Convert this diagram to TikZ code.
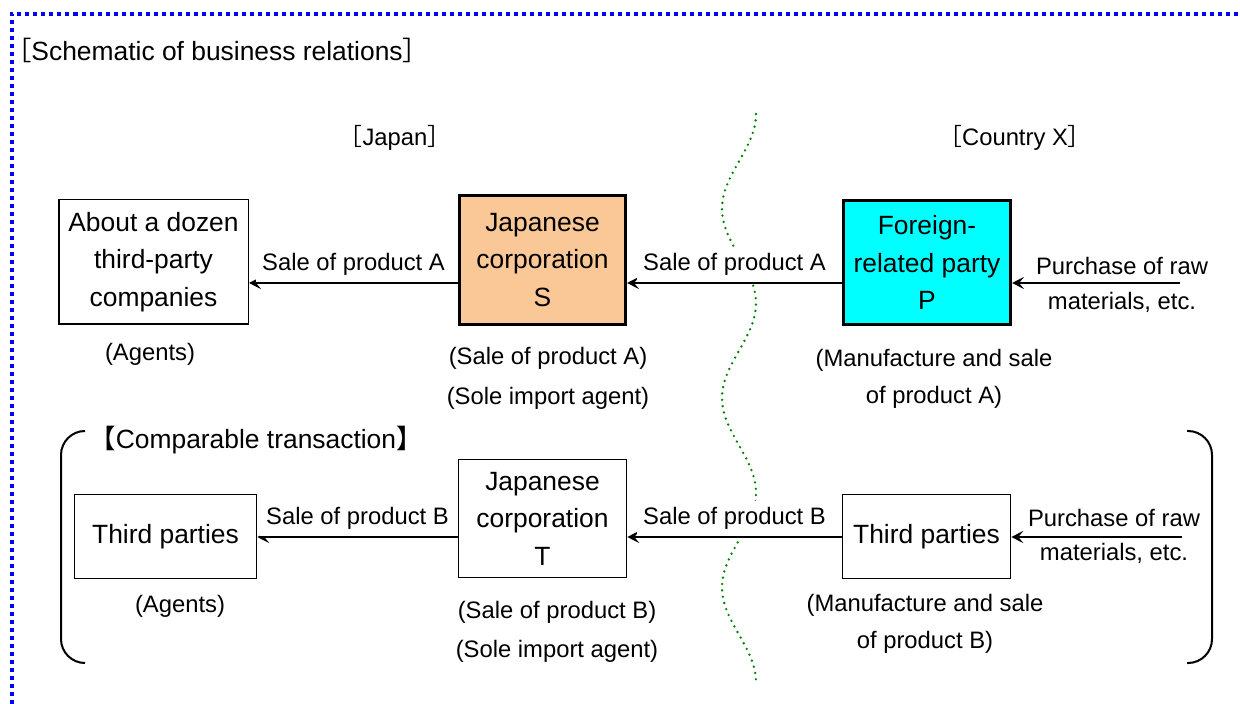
\documentclass[tikz,border=0pt]{standalone}
\usepackage{fontspec}
\setmainfont{Liberation Sans}
\newfontfamily\cjk{Noto Sans CJK JP}
\usetikzlibrary{arrows.meta}
\definecolor{peach}{RGB}{250,200,150}
\definecolor{aqua}{RGB}{0,255,255}
\definecolor{borderblue}{RGB}{0,0,240}
\definecolor{linegreen}{RGB}{0,128,0}
\newcommand\boxfont{\fontsize{13.2}{18.75}\selectfont}
\newcommand\lblfont{\fontsize{11.9}{18.5}\selectfont}

\begin{document}
\begin{tikzpicture}
[x=0.5pt,y=-0.5pt,
every node/.style={align=center,font=\lblfont},
firm/.style={draw,line width=0.75pt,font=\boxfont,inner sep=0pt},
keyfirm/.style={firm,line width=1.5pt},
flow/.style={-{Stealth[length=6pt,width=6pt,inset=2.5pt]},line width=0.75pt},
sale/.style={above,fill=white},
]
\useasboundingbox (0,0) rectangle (1240,704);
\draw[borderblue,line width=2pt,dash pattern=on 2pt off 2pt] (11.5,704) -- (11.5,14) -- (1240,14);
\draw[linegreen,line width=1.3pt,line cap=round,dash pattern=on 0pt off 3.2pt]
  plot[domain=0:6,samples=90,smooth] ({739+17*cos(\x*180)},{114+94.67*\x});

\node[font=\boxfont,anchor=west] (title) at (-2,50) {{\cjk ［}Schematic of business relations{\cjk ］}};
\node (japan) at (395,138) {{\cjk ［}Japan{\cjk ］}};
\node (countryx) at (1015,138) {{\cjk ［}Country X{\cjk ］}};

\node[firm,minimum width=94.75pt,minimum height=62.25pt] (dozen) at (153.5,262) {About a dozen\\third-party\\companies};
\node[keyfirm,fill=peach,minimum width=83pt,minimum height=64.5pt] (S) at (542.5,260) {Japanese\\corporation\\S};
\node[keyfirm,fill=aqua,minimum width=83.5pt,minimum height=62pt] (P) at (927,262.5) {Foreign-\\related party\\P};
\coordinate (rowA) at (0,283);
\coordinate (inA) at (1180,283);
\draw[flow] (S.west |- rowA) -- node[sale]{Sale of product A} (dozen.east |- rowA);
\draw[flow] (P.west |- rowA) -- node[sale]{Sale of product A} (S.east |- rowA);
\node[font=\fontsize{11.9}{17.5}\selectfont] (rawA) at (1122,284.5) {Purchase of raw\\materials, etc.};
\draw[flow] (inA) -- (P.east |- inA);
\node (dozenrole) at (150,354) {(Agents)};
\node[font=\fontsize{11.9}{20}\selectfont] (Srole) at (548,378) {(Sale of product A)\\(Sole import agent)};
\node (Prole) at (934,378.5) {(Manufacture and sale\\of product A)};

\draw[line width=1pt,rounded corners=12pt] (85,431) -- (61,431) -- (61,663) -- (85,663);
\draw[line width=1pt,rounded corners=12pt] (1187,431) -- (1212,431) -- (1212,663) -- (1187,663);
\node[font=\boxfont] (comparable) at (256,440) {{\cjk 【}Comparable transaction{\cjk 】}};

\node[firm,minimum width=91pt,minimum height=42pt] (thirdJ) at (165.5,536.5) {Third parties};
\node[firm,minimum width=84pt,minimum height=59pt] (T) at (542.5,518.5) {Japanese\\corporation\\T};
\node[firm,minimum width=84pt,minimum height=42pt] (thirdX) at (926.5,536.5) {Third parties};
\coordinate (rowB) at (0,537);
\coordinate (inB) at (1182,537);
\draw[flow] (T.west |- rowB) -- node[sale]{Sale of product B} (thirdJ.east |- rowB);
\draw[flow] (thirdX.west |- rowB) -- node[sale]{Sale of product B} (T.east |- rowB);
\node[font=\fontsize{11.9}{17}\selectfont] (rawB) at (1114,536) {Purchase of raw\\materials, etc.};
\draw[flow] (inB) -- (thirdX.east |- inB);
\node (thirdJrole) at (180,606) {(Agents)};
\node[font=\fontsize{11.9}{19.5}\selectfont] (Trole) at (557,631.5) {(Sale of product B)\\(Sole import agent)};
\node (thirdXrole) at (925,624) {(Manufacture and sale\\of product B)};
\end{tikzpicture}
\end{document}
